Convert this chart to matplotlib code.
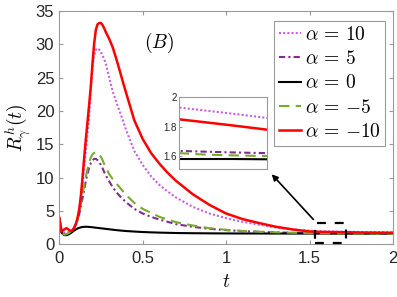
import numpy as np
import matplotlib
matplotlib.use("Agg")
import matplotlib.pyplot as plt
from matplotlib.patches import Rectangle

plt.rcParams["mathtext.fontset"] = "cm"
plt.rcParams["font.family"] = ["Liberation Sans", "DejaVu Sans"]

# ── data ─────────────────────────────────────────────────────────────────────
t = [0.0, 0.015, 0.03, 0.045, 0.06, 0.075, 0.09,
     0.10, 0.11, 0.12, 0.13, 0.14, 0.15, 0.16, 0.17, 0.18, 0.19, 0.20, 0.21,
     0.22, 0.23, 0.24, 0.25, 0.26, 0.27, 0.28,
     0.30, 0.32, 0.34, 0.36, 0.38, 0.40,
     0.45, 0.50, 0.55, 0.60, 0.65, 0.70,
     0.80, 0.90, 1.0, 1.1, 1.2, 1.3, 1.4, 1.5,
     1.55, 1.6, 1.65, 1.72,
     1.8, 1.9, 2.0]

r_a10 = [4.0, 1.8, 1.7, 1.8, 1.8, 2.0, 2.5,
         3.0, 3.8, 5.0, 6.8, 9.0, 11.5, 14.0, 16.6, 19.3, 23.5, 26.6, 28.4,
         29.2, 29.4, 29.2, 28.8, 28.3, 27.8, 27.0,
         25.0, 23.0, 21.5, 20.1, 18.7, 17.2,
         14.0, 11.9, 10.2, 8.9, 7.9, 7.0,
         5.6, 4.6, 3.9, 3.35, 2.9, 2.5, 2.2, 2.02,
         1.93, 1.91, 1.89, 1.86,
         1.84, 1.82, 1.80]
r_a5 = [4.0, 1.7, 1.4, 1.45, 1.65, 1.95, 2.5,
        3.0, 3.6, 4.5, 5.6, 6.9, 8.2, 9.5, 10.6, 11.5, 12.2, 12.6, 12.8,
        12.8, 12.6, 12.3, 11.9, 11.4, 10.8, 10.3,
        9.4, 8.6, 7.9, 7.3, 6.8, 6.3,
        5.3, 4.6, 4.1, 3.7, 3.35, 3.0,
        2.6, 2.3, 2.1, 1.95, 1.84, 1.76, 1.70, 1.66,
        1.635, 1.63, 1.625, 1.62,
        1.615, 1.61, 1.605]
r_a0 = [4.0, 1.7, 1.35, 1.35, 1.5, 1.75, 2.05,
        2.2, 2.35, 2.45, 2.52, 2.57, 2.6, 2.61, 2.6, 2.58, 2.56, 2.53, 2.5,
        2.47, 2.44, 2.41, 2.38, 2.35, 2.32, 2.29,
        2.23, 2.17, 2.11, 2.06, 2.01, 1.97,
        1.89, 1.82, 1.77, 1.73, 1.70, 1.67,
        1.64, 1.62, 1.605, 1.60, 1.595, 1.59, 1.585, 1.582,
        1.58, 1.58, 1.58, 1.578,
        1.577, 1.576, 1.575]
r_am5 = [4.0, 1.7, 1.4, 1.5, 1.7, 2.0, 2.6,
         3.1, 3.8, 4.8, 6.0, 7.4, 8.8, 10.1, 11.3, 12.3, 13.0, 13.5, 13.7,
         13.8, 13.7, 13.5, 13.1, 12.6, 12.0, 11.5,
         10.5, 9.8, 9.2, 8.6, 8.0, 7.4,
         6.2, 5.3, 4.7, 4.1, 3.7, 3.3,
         2.8, 2.4, 2.15, 1.98, 1.86, 1.77, 1.70, 1.64,
         1.62, 1.61, 1.605, 1.60,
         1.595, 1.59, 1.585]
r_am10 = [4.0, 1.9, 2.2, 2.4, 2.1, 1.95, 2.4,
          3.0, 3.9, 5.2, 7.2, 10.0, 13.0, 15.8, 18.4, 21.0, 23.8, 27.2, 30.2,
          32.2, 33.0, 33.2, 33.2, 32.9, 32.4, 31.8,
          30.8, 29.6, 28.0, 26.3, 24.5, 22.8,
          18.6, 15.8, 13.7, 12.1, 10.7, 9.5,
          7.5, 5.9, 4.6, 3.75, 3.15, 2.6, 2.2, 1.90,
          1.85, 1.83, 1.81, 1.78,
          1.75, 1.72, 1.70]

# ── styles ───────────────────────────────────────────────────────────────────
series = [
    (r_a10,  r"$\alpha\,=\,10$",    "#c860e2", (0, (1, 1)),           1.5),
    (r_a5,   r"$\alpha\,=\,5$",     "#7e2f8e", (0, (3, 1.5, 1, 1.5)), 1.5),
    (r_a0,   r"$\alpha\,=\,0$",     "black",   "-",                   1.5),
    (r_am5,  r"$\alpha\,=\,{-5}$",  "#77ac30", (0, (5, 3)),           1.5),
    (r_am10, r"$\alpha\,=\,{-10}$", "red",     "-",                   1.8),
]
SPINE = "#9a9a9a"

fig = plt.figure(figsize=(3.97, 2.97), dpi=100)
ax = fig.add_axes([0.149, 0.178, 0.841, 0.785])

for y, lab, c, ls, lw in series:
    ax.plot(t, y, color=c, ls=ls, lw=lw, label=lab)

ax.set_xlim(0, 2)
ax.set_ylim(0, 35)
ax.set_xticks([0, 0.5, 1, 1.5, 2])
ax.set_xticklabels(["0", "0.5", "1", "1.5", "2"])
ax.set_yticks(range(0, 36, 5))
ax.tick_params(direction="in", top=True, right=True, labelsize=12,
               color=SPINE, labelcolor="#262626", length=3)
ax.tick_params(axis="x", pad=5)
for s in ax.spines.values():
    s.set_color(SPINE)
    s.set_linewidth(0.8)
ax.set_xlabel(r"$t$", fontsize=14, labelpad=6)
ax.set_ylabel(r"$R^h_\gamma(t)$", fontsize=14, labelpad=2)
ax.text(0.6, 30.2, r"$(B)$", fontsize=14, ha="center", va="center")

leg = ax.legend(loc="upper right", bbox_to_anchor=(1.0, 0.99), fontsize=14,
                handlelength=1.1, handletextpad=0.2, labelspacing=0.32,
                borderpad=0.25, borderaxespad=0.4, fancybox=False,
                framealpha=1)
leg.get_frame().set_edgecolor(SPINE)
leg.get_frame().set_linewidth(0.8)

# dashed zoom box + arrow
ax.add_patch(Rectangle((1.534, 0.1), 0.186, 3.05, fill=False, ec="black",
                       lw=1.6, ls=(0, (4, 4)), zorder=5, clip_on=False))
ax.annotate("", xy=(1.262, 10.8), xytext=(1.534, 3.4),
            arrowprops=dict(arrowstyle="-|>", color="black", lw=1.2,
                            mutation_scale=9))

# inset
ins = fig.add_axes([0.4517, 0.430, 0.220, 0.2424])
for y, lab, c, ls, lw in series:
    ins.plot(t, y, color=c, ls=ls, lw=lw)
ins.set_xlim(1.55, 1.72)
ins.set_ylim(1.51, 2.0)
ins.set_xticks([])
ins.set_yticks([1.6, 1.8, 2.0])
ins.set_yticklabels(["1.6", "1.8", "2"])
ins.tick_params(direction="in", labelsize=7, color=SPINE,
                labelcolor="#262626", length=2, pad=2)
for s in ins.spines.values():
    s.set_color(SPINE)
    s.set_linewidth(0.8)

fig.savefig("out.png", dpi=100)
